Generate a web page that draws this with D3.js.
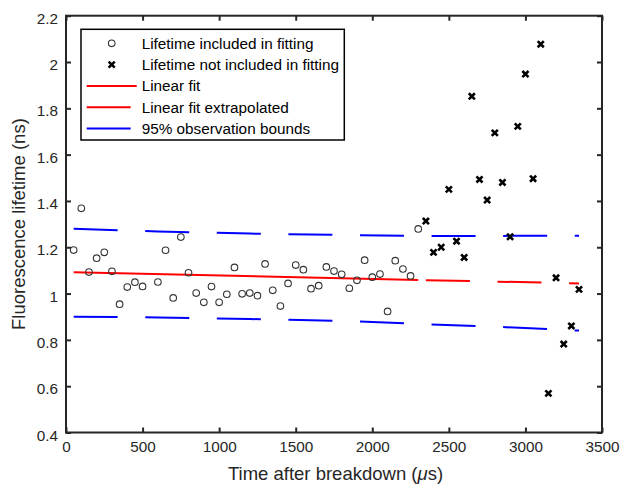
<!DOCTYPE html>
<html>
<head>
<meta charset="utf-8">
<script src="https://cdn.jsdelivr.net/npm/d3@7"></script>
<style>
  html, body { margin: 0; padding: 0; background: #fff; }
  svg { display: block; font-family: "Liberation Sans", Arial, sans-serif; }
</style>
</head>
<body>
<svg id="chart" width="622" height="486"></svg>
<script>
// ---- Data ----
const includedTime = [50, 100, 150, 200, 250, 300, 350, 400, 450, 500, 600, 650, 700, 750, 800, 850, 900, 950, 1000, 1050, 1100, 1150, 1200, 1250, 1300, 1350, 1400, 1450, 1500, 1550, 1600, 1650, 1700, 1750, 1800, 1850, 1900, 1950, 2000, 2050, 2100, 2150, 2200, 2250, 2300];
const includedLifetime = [1.188, 1.368, 1.093, 1.153, 1.178, 1.096, 0.954, 1.028, 1.049, 1.031, 1.050, 1.187, 0.981, 1.244, 1.090, 1.002, 0.962, 1.030, 0.962, 0.997, 1.113, 0.999, 1.002, 0.991, 1.128, 1.014, 0.946, 1.044, 1.123, 1.103, 1.021, 1.034, 1.115, 1.097, 1.083, 1.023, 1.057, 1.144, 1.071, 1.084, 0.923, 1.142, 1.106, 1.076, 1.279];

const excludedTime = [2350, 2400, 2450, 2500, 2550, 2600, 2650, 2700, 2750, 2800, 2850, 2900, 2950, 3000, 3050, 3100, 3150, 3200, 3250, 3300, 3350];
const excludedLifetime = [1.313, 1.178, 1.200, 1.450, 1.226, 1.156, 1.852, 1.493, 1.404, 1.694, 1.480, 1.245, 1.722, 1.948, 1.496, 2.077, 0.569, 1.068, 0.782, 0.860, 1.018];

const fitTime = [50, 2300];
const fitValue = [1.092, 1.059];
const extrapTime = [2350, 3350];
const extrapValue = [1.058, 1.044];

const boundTime = [50, 600, 1200, 1800, 2300, 2800, 3350];
const upperBound = [1.280, 1.268, 1.259, 1.253, 1.249, 1.249, 1.250];
const lowerBound = [0.900, 0.897, 0.890, 0.882, 0.869, 0.857, 0.840];

const xTicks = [0, 500, 1000, 1500, 2000, 2500, 3000, 3500];
const yTicks = [0.4, 0.6, 0.8, 1.0, 1.2, 1.4, 1.6, 1.8, 2.0, 2.2];

const legendLabels = ["Lifetime included in fitting", "Lifetime not included in fitting", "Linear fit", "Linear fit extrapolated", "95% observation bounds"];

// ---- Layout ----
const svg = d3.select("#chart");
const pL = 66, pR = 602, pT = 15.7, pB = 432.5;
const x = d3.scaleLinear().domain([0, 3500]).range([pL, pR]);
const y = d3.scaleLinear().domain([0.4, 2.2]).range([pB, pT]);

const axisColor = "#262626";
const dash = "44,27.6";

// ---- Axes ----
const fmtY = d => (d === 1 ? "1" : d === 2 ? "2" : d3.format(".1f")(d));
const gx = svg.append("g").attr("transform", `translate(0,${pB})`)
  .call(d3.axisBottom(x).tickValues(xTicks).tickSizeInner(-5).tickSizeOuter(0).tickPadding(9).tickFormat(d3.format("d")));
const gxt = svg.append("g").attr("transform", `translate(0,${pT})`)
  .call(d3.axisTop(x).tickValues(xTicks).tickSizeInner(-5).tickSizeOuter(0).tickFormat(""));
const gy = svg.append("g").attr("transform", `translate(${pL},0)`)
  .call(d3.axisLeft(y).tickValues(yTicks).tickSizeInner(-5).tickSizeOuter(0).tickPadding(8).tickFormat(fmtY));
const gyr = svg.append("g").attr("transform", `translate(${pR},0)`)
  .call(d3.axisRight(y).tickValues(yTicks).tickSizeInner(-5).tickSizeOuter(0).tickFormat(""));

[gx, gxt, gy, gyr].forEach(g => {
  g.select(".domain").remove();
  g.selectAll(".tick line").attr("stroke", axisColor).attr("stroke-width", 2);
  g.selectAll(".tick text").attr("fill", axisColor).attr("font-size", 15.3)
    .attr("font-family", "Liberation Sans, Arial, sans-serif");
});
gy.selectAll(".tick text").attr("dy", "0.5em");

// ---- Lines ----
const line = d3.line().x(d => x(d[0])).y(d => y(d[1]));
svg.append("path").datum(boundTime.map((t, i) => [t, upperBound[i]]))
  .attr("d", line).attr("fill", "none").attr("stroke", "#0000ff").attr("stroke-width", 2).attr("stroke-dasharray", dash);
svg.append("path").datum(boundTime.map((t, i) => [t, lowerBound[i]]))
  .attr("d", line).attr("fill", "none").attr("stroke", "#0000ff").attr("stroke-width", 2).attr("stroke-dasharray", dash);
svg.append("path").datum(fitTime.map((t, i) => [t, fitValue[i]]))
  .attr("d", line).attr("fill", "none").attr("stroke", "#ff0000").attr("stroke-width", 2);
svg.append("path").datum(extrapTime.map((t, i) => [t, extrapValue[i]]))
  .attr("d", line).attr("fill", "none").attr("stroke", "#ff0000").attr("stroke-width", 2).attr("stroke-dasharray", dash);

// ---- Markers ----
const circR = 3.3;
svg.append("g").selectAll("circle").data(includedTime.map((t, i) => [t, includedLifetime[i]]))
  .join("circle").attr("cx", d => x(d[0])).attr("cy", d => y(d[1])).attr("r", circR)
  .attr("fill", "none").attr("stroke", "#333").attr("stroke-width", 1.1);

const xSym = d3.symbol().type(d3.symbolX).size(26);
svg.append("g").selectAll("path").data(excludedTime.map((t, i) => [t, excludedLifetime[i]]))
  .join("path").attr("transform", d => `translate(${x(d[0])},${y(d[1])})`).attr("d", xSym)
  .attr("fill", "none").attr("stroke", "#000").attr("stroke-width", 2.6);

// ---- Frame ----
svg.append("rect").attr("x", pL).attr("y", pT).attr("width", pR - pL).attr("height", pB - pT)
  .attr("fill", "none").attr("stroke", axisColor).attr("stroke-width", 2);

// ---- Axis titles ----
svg.append("text").attr("x", (pL + pR) / 2 + 1.5).attr("y", 480).attr("text-anchor", "middle")
  .attr("font-size", 18.5).attr("fill", axisColor)
  .html('Time after breakdown (<tspan font-style="italic">μ</tspan>s)');
svg.append("text").attr("transform", `translate(25,${(pT + pB) / 2}) rotate(-90)`).attr("text-anchor", "middle")
  .attr("font-size", 18.5).attr("fill", axisColor).text("Fluorescence lifetime (ns)");

// ---- Legend ----
const lg = svg.append("g");
lg.append("rect").attr("x", 81).attr("y", 29.3).attr("width", 263.3).attr("height", 110.7)
  .attr("fill", "#fff").attr("stroke", "#000").attr("stroke-width", 1.5);
const rowY = [43.3, 64.6, 85.9, 107.2, 128.5];
legendLabels.forEach((lab, i) => {
  lg.append("text").attr("x", 141.7).attr("y", rowY[i]).attr("dy", "0.35em")
    .attr("font-size", 15.3).attr("fill", "#000").text(lab);
});
lg.append("circle").attr("cx", 111.7).attr("cy", rowY[0]).attr("r", circR)
  .attr("fill", "none").attr("stroke", "#333").attr("stroke-width", 1.1);
lg.append("path").attr("transform", `translate(111.7,${rowY[1]})`).attr("d", xSym)
  .attr("fill", "none").attr("stroke", "#000").attr("stroke-width", 2.6);
lg.append("line").attr("x1", 86.7).attr("x2", 136.7).attr("y1", rowY[2]).attr("y2", rowY[2])
  .attr("stroke", "#ff0000").attr("stroke-width", 2);
lg.append("line").attr("x1", 86.7).attr("x2", 136.7).attr("y1", rowY[3]).attr("y2", rowY[3])
  .attr("stroke", "#ff0000").attr("stroke-width", 2).attr("stroke-dasharray", dash);
lg.append("line").attr("x1", 86.7).attr("x2", 136.7).attr("y1", rowY[4]).attr("y2", rowY[4])
  .attr("stroke", "#0000ff").attr("stroke-width", 2).attr("stroke-dasharray", dash);
</script>
</body>
</html>
